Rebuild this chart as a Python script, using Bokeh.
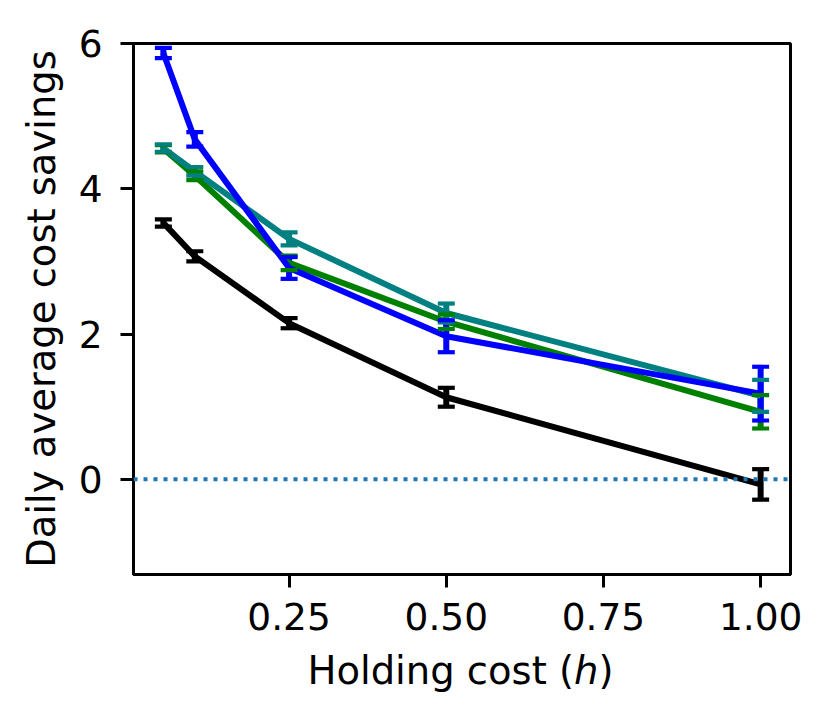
from bokeh.plotting import figure
from bokeh.layouts import column
from bokeh.models import Range1d, FixedTicker, NumeralTickFormatter, Span
from bokeh.embed import file_html
from bokeh.resources import INLINE
from bokeh.core.properties import value

# ---- data ----
h = [0.05, 0.1, 0.25, 0.5, 1.0]

black_y = [3.53, 3.07, 2.15, 1.13, -0.07]
black_e = [0.05, 0.07, 0.07, 0.13, 0.21]

green_y = [4.55, 4.18, 2.98, 2.17, 0.93]
green_e = [0.05, 0.06, 0.10, 0.10, 0.23]

teal_y = [4.56, 4.24, 3.31, 2.29, 1.15]
teal_e = [0.05, 0.06, 0.09, 0.13, 0.22]

blue_y = [5.87, 4.68, 2.91, 1.97, 1.18]
blue_e = [0.07, 0.10, 0.15, 0.22, 0.37]

x_ticks = [0.25, 0.5, 0.75, 1.0]
y_ticks = [0, 2, 4, 6]
x_label_main = "Holding cost ("
x_label_var = "h"
x_label_end = ")"
y_label = "Daily average cost savings"

series = [
    (black_y, black_e, "black"),
    (green_y, green_e, "#008000"),
    (teal_y, teal_e, "#008080"),
    (blue_y, blue_e, "#0000ff"),
]

FONT = "DejaVu Sans"
FS = "37.5px"
LFS = "38.5px"

x_rng = (0.0025, 1.0475)

p = figure(width=816, height=649, output_backend="svg", toolbar_location=None,
           x_range=Range1d(*x_rng), y_range=Range1d(-1.31, 6.0),
           min_border_left=133, min_border_right=26, min_border_top=43,
           min_border_bottom=75)
p.background_fill_color = "white"
p.border_fill_color = "white"
p.grid.visible = False
p.outline_line_color = "black"
p.outline_line_width = 3

for ax in (p.xaxis[0], p.yaxis[0]):
    ax.axis_line_width = 3
    ax.axis_line_color = "black"
    ax.major_tick_line_width = 3
    ax.major_tick_in = 0
    ax.major_tick_out = 13
    ax.minor_tick_line_color = None
    ax.major_label_text_font = FONT
    ax.major_label_text_font_size = FS
    ax.major_label_text_color = "black"

p.xaxis.ticker = FixedTicker(ticks=x_ticks)
p.xaxis.formatter = NumeralTickFormatter(format="0.00")
p.xaxis.major_label_standoff = 15
p.yaxis.ticker = FixedTicker(ticks=y_ticks)
p.yaxis.major_label_standoff = 18
p.yaxis.axis_label = y_label
p.yaxis.axis_label_text_font = FONT
p.yaxis.axis_label_text_font_size = LFS
p.yaxis.axis_label_text_font_style = "normal"
p.yaxis.axis_label_text_color = "black"
p.yaxis.axis_label_standoff = 12

# zero reference line
p.add_layout(Span(location=0, dimension="width", line_color="#1f77b4",
                  line_width=4, line_dash="4 6"))

# error-bar stems (below lines)
for ys, es, c in series:
    lo = [y - e for y, e in zip(ys, es)]
    hi = [y + e for y, e in zip(ys, es)]
    p.segment(x0=h, y0=lo, x1=h, y1=hi, line_color=c, line_width=6)

# lines
for ys, es, c in series:
    p.line(h, ys, line_color=c, line_width=6)

# caps (on top)
for ys, es, c in series:
    lo = [y - e for y, e in zip(ys, es)]
    hi = [y + e for y, e in zip(ys, es)]
    p.scatter(h + h, lo + hi, marker="dash", size=17, line_color=c,
              line_width=4.2, fill_color=c)

# ---- x axis label strip (italic h), drawn as real text ----
lab_h = 62
q = figure(width=816, height=lab_h, output_backend="svg", toolbar_location=None,
           x_range=Range1d(*x_rng), y_range=Range1d(0, lab_h),
           min_border_left=133, min_border_right=26, min_border_top=0,
           min_border_bottom=0)
q.axis.visible = False
q.grid.visible = False
q.outline_line_color = None
q.background_fill_color = "white"
q.border_fill_color = "white"

mid_x = (x_rng[0] + x_rng[1]) / 2
base = lab_h - 21
join = 112.0
q.text(x=[mid_x], y=[base], text=[x_label_main], text_align="right",
       text_baseline="alphabetic", x_offset=join, text_font=value(FONT),
       text_font_size=LFS, text_color="black")
q.text(x=[mid_x], y=[base], text=[x_label_var], text_align="left",
       text_baseline="alphabetic", x_offset=join, text_font=value(FONT),
       text_font_size=LFS, text_font_style="italic", text_color="black")
q.text(x=[mid_x], y=[base], text=[x_label_end], text_align="left",
       text_baseline="alphabetic", x_offset=join + 24.4, text_font=value(FONT),
       text_font_size=LFS, text_color="black")

layout = column(p, q, spacing=0)
open("out.html", "w").write(file_html(layout, INLINE))
